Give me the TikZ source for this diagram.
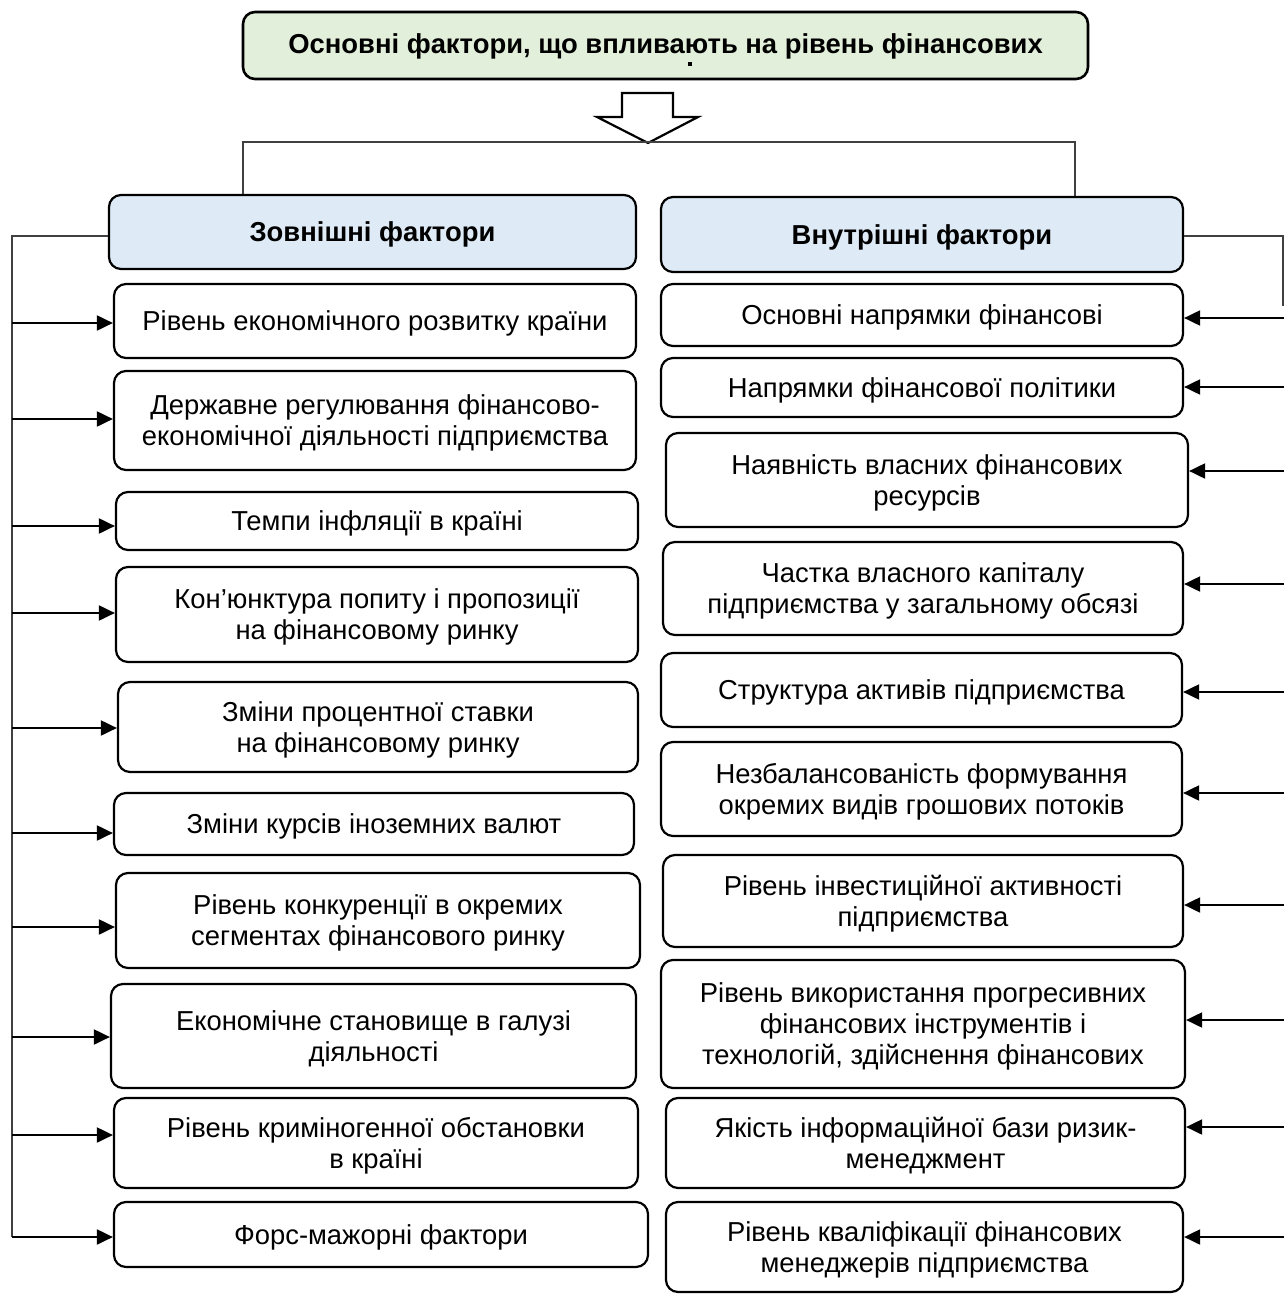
\documentclass[tikz,border=0pt]{standalone}
\usepackage{fontspec}
\setmainfont{Liberation Sans}
\usetikzlibrary{arrows.meta, positioning}
\definecolor{titlegreen}{HTML}{E2EFDA}
\definecolor{headblue}{HTML}{DEEAF6}
\definecolor{busgray}{HTML}{404040}

\begin{document}
\begin{tikzpicture}[
  x=0.5pt, y=-0.5pt,
  box/.style={draw, line width=1.1pt, rounded corners=6pt, align=center, inner sep=2pt,
    text depth=0pt, font=\fontsize{13.7}{15.5}\selectfont},
  head/.style={box, fill=headblue, font=\fontsize{13.7}{15.5}\selectfont\bfseries},
  titlebox/.style={box, fill=titlegreen, line width=1.3pt, text depth=2pt,
    font=\fontsize{13.7}{15.5}\selectfont\bfseries},
  arr/.style={-{Triangle[length=8pt, width=7.5pt]}, line width=1pt},
  bus/.style={draw=busgray, line width=0.65pt}
]
\useasboundingbox (0,0) rectangle (1284,1294);

% title and hollow arrow
\node[titlebox, minimum width=422.5pt, minimum height=33.5pt] (title) at (665.5,45.5)
  {Основні фактори, що впливають на рівень фінансових};
\fill (688,62) rectangle (692,66);
\draw[line width=1.1pt, fill=white] (622,93) -- (673,93) -- (673,117) -- (698,117)
  -- (648,143) -- (597,117) -- (622,117) -- cycle;

% headers
\node[head, minimum width=263.5pt, minimum height=37pt] (lhead) at (372.5,232) {Зовнішні фактори};
\node[head, minimum width=261pt, minimum height=37.5pt] (rhead) at (922,234.5) {Внутрішні фактори};

\coordinate (tl) at (243,142);
\coordinate (tr) at (1075,142);
\draw[bus] (lhead.north -| tl) -- (tl) -- (tr) -- (rhead.north -| tr);

% external factors
\node[box, minimum width=261pt, minimum height=37pt] (L1) at (375,321) {Рівень економічного розвитку країни};
\node[box, minimum width=261pt, minimum height=49.5pt] (L2) at (375,420.5) {Державне регулювання фінансово-\\економічної діяльності підприємства};
\node[box, minimum width=261pt, minimum height=29pt] (L3) at (377,521) {Темпи інфляції в країні};
\node[box, minimum width=261pt, minimum height=47.5pt] (L4) at (377,614.5) {Кон’юнктура попиту і пропозиції\\на фінансовому ринку};
\node[box, minimum width=260pt, minimum height=45pt] (L5) at (378,727) {Зміни процентної ставки\\на фінансовому ринку};
\node[box, minimum width=260pt, minimum height=31pt] (L6) at (374,824) {Зміни курсів іноземних валют};
\node[box, minimum width=262pt, minimum height=47.5pt] (L7) at (378,920.5) {Рівень конкуренції в окремих\\сегментах фінансового ринку};
\node[box, minimum width=262.5pt, minimum height=52pt] (L8) at (373.5,1036) {Економічне становище в галузі\\діяльності};
\node[box, minimum width=262pt, minimum height=45pt] (L9) at (376,1143) {Рівень криміногенної обстановки\\в країні};
\node[box, minimum width=267pt, minimum height=32.5pt] (L10) at (381,1234.5) {Форс-мажорні фактори};

% internal factors
\node[box, minimum width=261pt, minimum height=31pt] (R1) at (922,315) {Основні напрямки фінансові};
\node[box, minimum width=261pt, minimum height=29.5pt] (R2) at (922,387.5) {Напрямки фінансової політики};
\node[box, minimum width=261pt, minimum height=47pt] (R3) at (927,480) {Наявність власних фінансових\\ресурсів};
\node[box, minimum width=260pt, minimum height=46.5pt] (R4) at (923,588.5) {Частка власного капіталу\\підприємства у загальному обсязі};
\node[box, minimum width=260.5pt, minimum height=37pt] (R5) at (921.5,690) {Структура активів підприємства};
\node[box, minimum width=260.5pt, minimum height=47pt] (R6) at (921.5,789) {Незбалансованість формування\\окремих видів грошових потоків};
\node[box, minimum width=260pt, minimum height=46pt] (R7) at (923,901) {Рівень інвестиційної активності\\підприємства};
\node[box, minimum width=262pt, minimum height=64pt] (R8) at (923,1024) {Рівень використання прогресивних\\фінансових інструментів і\\технологій, здійснення фінансових};
\node[box, minimum width=259.5pt, minimum height=45pt] (R9) at (925.5,1143) {Якість інформаційної бази ризик-\\менеджмент};
\node[box, minimum width=258.5pt, minimum height=45pt] (R10) at (924.5,1247) {Рівень кваліфікації фінансових\\менеджерів підприємства};

% buses
\coordinate (lbus) at (12,236);
\coordinate (rbus) at (1283,236);
\draw[bus] (lhead.west |- lbus) -- (lbus) -- (lbus |- 0,1237);
\draw[bus] (rhead.east |- rbus) -- (rbus) -- ++(0,70);

\foreach \n/\y in {L1/323, L2/419, L3/526, L4/613, L5/728, L6/833, L7/927, L8/1037, L9/1135, L10/1237}
  \draw[arr] (lbus |- 0,\y) -- (\n.west |- 0,\y);
\foreach \n/\y in {R1/318, R2/387, R3/471, R4/584, R5/692, R6/793, R7/905, R8/1020, R9/1127, R10/1237}
  \draw[arr] (1284,\y) -- (\n.east |- 0,\y);
\end{tikzpicture}
\end{document}
